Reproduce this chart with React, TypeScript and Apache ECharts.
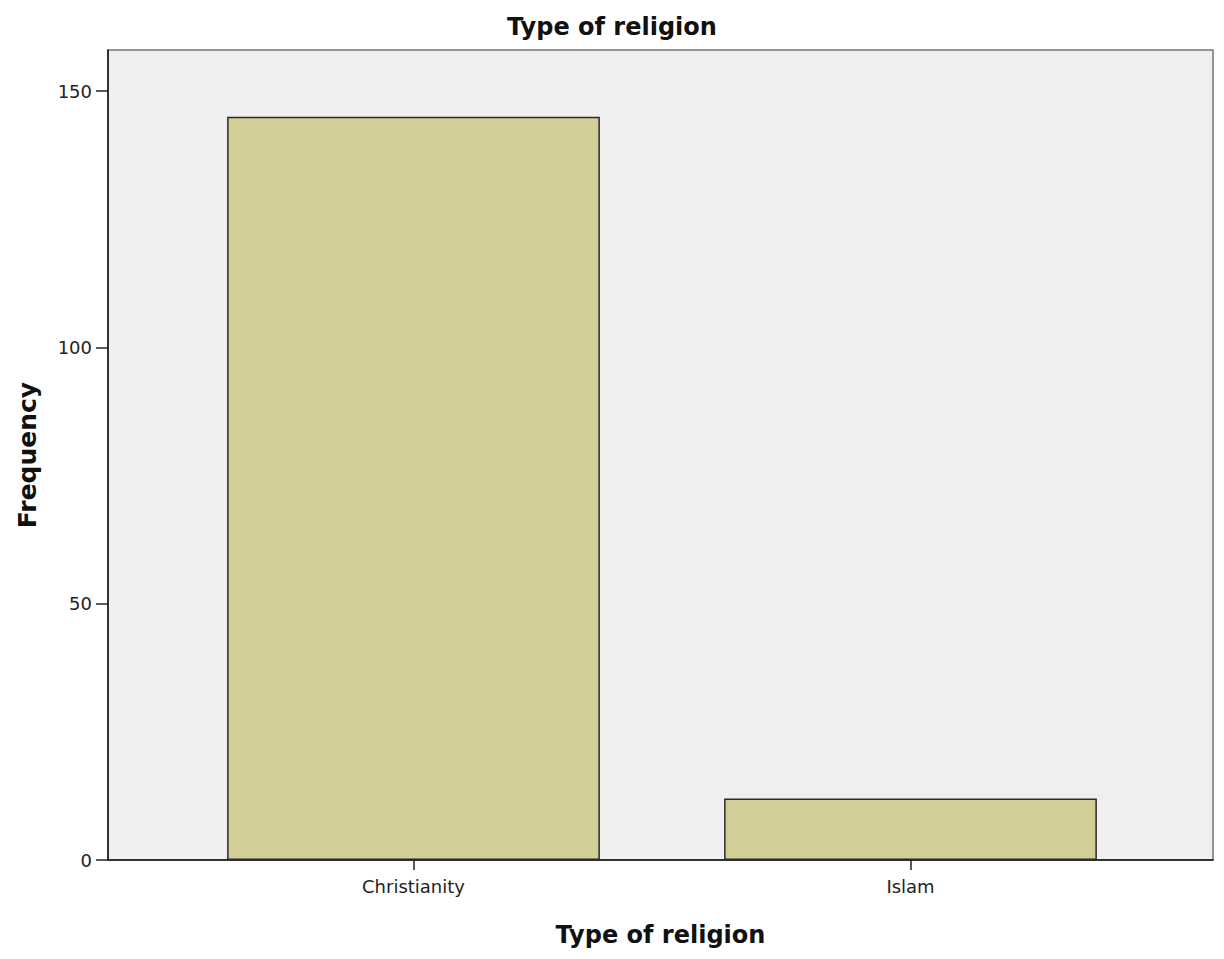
import React, { useEffect, useRef } from "react";
import * as echarts from "echarts";

const categories = ["Christianity", "Islam"];
const frequencies = [145, 12];
const yTicks = [0, 50, 100, 150];
const titleText = "Type of religion";
const xAxisName = "Type of religion";
const yAxisName = "Frequency";

export default function App() {
  const ref = useRef<HTMLDivElement>(null);
  useEffect(() => {
    if (!ref.current) return;
    const chart = echarts.init(ref.current, null, { renderer: "svg" });
    const yMax = 158;
    const font = "'DejaVu Sans', 'Liberation Sans', Arial, sans-serif";
    chart.setOption({
      animation: false,
      backgroundColor: "#ffffff",
      title: {
        text: titleText,
        left: "center",
        top: 10,
        textStyle: { fontFamily: font, fontWeight: "bold", fontSize: 24, color: "#111" },
      },
      grid: [
        {
          left: 108, top: 50, width: 1105, height: 810,
          show: true, backgroundColor: "#efefef", borderColor: "#777", borderWidth: 1.5,
        },
        { left: 165, top: 50, width: 994, height: 810 },
      ],
      xAxis: [
        {
          gridIndex: 0, type: "value", min: 0, max: 1,
          axisLine: { show: true, onZero: false, lineStyle: { color: "#111", width: 1.5 } },
          axisTick: { show: false }, axisLabel: { show: false }, splitLine: { show: false },
          name: xAxisName, nameLocation: "middle", nameGap: 63,
          nameTextStyle: { fontFamily: font, fontWeight: "bold", fontSize: 24, color: "#111" },
        },
        {
          gridIndex: 1, type: "category", data: categories,
          axisLine: { show: false },
          axisTick: { show: true, alignWithLabel: true, length: 10, lineStyle: { color: "#222", width: 1.5 } },
          axisLabel: { fontFamily: font, fontSize: 18, color: "#222", margin: 17 },
        },
      ],
      yAxis: [
        {
          gridIndex: 0, type: "value", min: 0, max: yMax, interval: 50,
          axisLine: { show: true, lineStyle: { color: "#111", width: 1.5 } },
          axisTick: { show: true, length: 12, customValues: yTicks, lineStyle: { color: "#222", width: 1.5 } },
          axisLabel: {
            fontFamily: font, fontSize: 18, color: "#222", margin: 16,
            customValues: yTicks,
            formatter: (v: number) => (yTicks.includes(v) ? String(v) : ""),
          },
          splitLine: { show: false },
          name: yAxisName, nameLocation: "middle", nameGap: 68, nameRotate: 90,
          nameTextStyle: { fontFamily: font, fontWeight: "bold", fontSize: 25, color: "#111" },
        },
        { gridIndex: 1, type: "value", min: 0, max: yMax, show: false },
      ],
      series: [
        {
          type: "bar", xAxisIndex: 1, yAxisIndex: 1, data: frequencies,
          barCategoryGap: "25%",
          itemStyle: { color: "#d3cd98", borderColor: "#2a2a2a", borderWidth: 1.5 },
        },
      ],
    });
    return () => chart.dispose();
  }, []);
  return (
    <div
      ref={ref}
      style={{ position: "fixed", left: 0, top: 0, width: 1224, height: 959 }}
    />
  );
}
